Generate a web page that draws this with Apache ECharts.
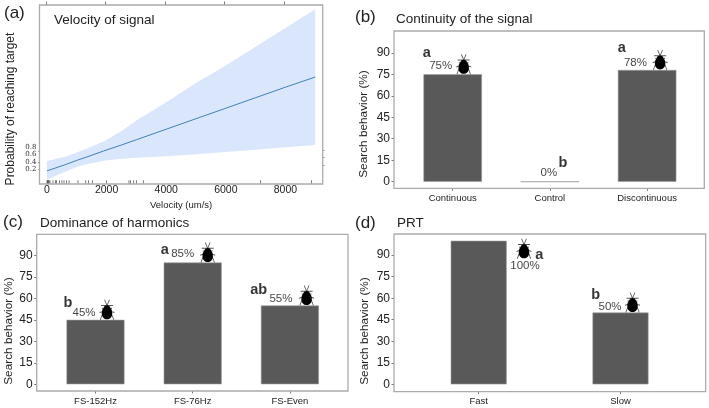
<!DOCTYPE html>
<html><head><meta charset="utf-8">
<style>html,body{margin:0;padding:0;background:#fff}#c{width:709px;height:408px}</style>
<script src="https://cdn.jsdelivr.net/npm/echarts@6/dist/echarts.min.js"></script>
</head><body><div id="c"></div>
<script>
// ---- data: panel (a)
const velocity   = [0,   630, 1000, 1300, 1900, 2500, 3000, 4000, 5000, 6000, 7000, 8000, 9000];
const fitLine    = [0.16,0.33,0.44, 0.52, 0.69, 0.85, 0.99, 1.27, 1.55, 1.83, 2.11, 2.39, 2.66];
const bandUpper  = [0.42,0.54,0.65, 0.74, 0.94, 1.22, 1.50, 1.99, 2.50, 2.97, 3.47, 3.97, 4.47];
const bandLower  = [-0.07,0.14,0.26,0.33, 0.43, 0.48, 0.51, 0.55, 0.60, 0.66, 0.72, 0.79, 0.85];
const rugValues  = [0,15,30,50,70,100,200,280,320,420,500,570,660,740,1040,1300,1390,1520,2000,2750,2800,2910,3000,3230,7170,8880];
const velocityTicks = [0,2000,4000,6000,8000];
const probLabels = [0.2,0.4,0.6,0.8];
// ---- data: panels (b), (c), (d)
const catsB = ['Continuous','Control','Discontinuous'];
const valsB = [75,0,78];
const lettersB = ['a','b','a'];
const catsC = ['FS-152Hz','FS-76Hz','FS-Even'];
const valsC = [45,85,55];
const lettersC = ['b','a','ab'];
const catsD = ['Fast','Slow'];
const valsD = [100,50];
const lettersD = ['a','b'];
const searchTicks = [0,15,30,45,60,75,90];

// ---- annotation offsets (px from top centre of each bar)
const layoutB = {pct:[[-12,-8],[-1,-8.7],[-11.7,-7.5]], let:[[-26,-21],[13,-19],[-25.3,-21.6]], bug:[[11,-10],null,[13,-10]]};
const layoutC = {pct:[[-11.5,-7],[-10,-8.7],[-9,-7]], let:[[-27.5,-16.5],[-27.8,-13],[-31.3,-15]], bug:[[11.5,-10],[15,-10],[16.7,-10]]};
const layoutD = {pct:[[46.3,25.3],[-10.5,-6]], let:[[60.6,14],[-24.8,-17.6]], bug:[[45.3,8],[12,-10]]};

const FONT = '"Liberation Sans", Arial, sans-serif';
const LEGS = 'path://M50 30L37 2M50 30L63 2M18 30L82 30M42 30L34 42L24 44M58 30L66 42L76 44M38 55L24 60L10 64M62 55L76 60L90 64M38 65L22 80L14 100M62 65L78 80L86 100';
const BODY = 'path://M50 0C60 0 66 8 68 18C76 24 80 40 80 60C80 85 66 100 50 100C34 100 20 85 20 60C20 40 24 24 32 18C34 8 40 0 50 0Z';

const grids=[], xAxes=[], yAxes=[], series=[], graphics=[];
const hiddenLine={show:false,onZero:false};

function text(x,y,t,size){
  graphics.push({type:'text',x:x,y:y,silent:true,
    style:{text:t,fontFamily:FONT,fontSize:size,fill:'#222',textAlign:'left',textVerticalAlign:'middle'}});
}
function vtext(x,y,t,size){
  graphics.push({type:'text',x:x,y:y,rotation:Math.PI/2,silent:true,
    style:{text:t,fontFamily:FONT,fontSize:size,fill:'#222',textAlign:'center',textVerticalAlign:'middle'}});
}
function box(l,t,r,b){
  graphics.push({type:'rect',silent:true,z:20,shape:{x:l,y:t,width:r-l,height:b-t},
    style:{fill:'none',stroke:'#ababab',lineWidth:1.3}});
}

function barPanel(o){
  const gi=grids.length;
  box(o.boxL,o.boxT,o.boxR,o.boxB);
  const band=o.step, n=o.cats.length;
  const gl=o.c0-band/2, gr=gl+band*n;
  grids.push({left:gl,top:o.boxT,width:gr-gl,height:o.boxB-o.boxT});
  xAxes.push({type:'category',gridIndex:gi,data:o.cats,
    axisLine:hiddenLine,axisTick:{show:true,alignWithLabel:true,length:2.5,lineStyle:{color:'#555',width:0.8}},
    axisLabel:{color:'#222',fontSize:9.5,fontFamily:FONT,margin:5,interval:0}});
  yAxes.push({type:'value',gridIndex:gi,min:o.yMin,max:o.yMax,offset:gl-o.boxL,
    splitLine:{show:false},axisLine:hiddenLine,
    axisTick:{show:true,length:2.5,customValues:searchTicks,lineStyle:{color:'#555',width:0.8}},
    axisLabel:{color:'#222',fontSize:12,fontFamily:FONT,margin:4,customValues:searchTicks}});
  series.push({type:'bar',xAxisIndex:gi,yAxisIndex:gi,data:o.vals,barWidth:o.barW,silent:true,
    itemStyle:{color:'#595959',borderColor:'#9a9a9a',borderWidth:0.6}});
  const pts=o.vals.map((v,i)=>[i,v]);
  series.push({type:'scatter',xAxisIndex:gi,yAxisIndex:gi,silent:true,symbolSize:0,z:5,
    data:pts.map((p,i)=>({value:p,label:{show:true,position:'inside',offset:o.layout.pct[i],formatter:o.vals[i]+'%',
      color:'#111',fontSize:11.5,fontFamily:FONT}}))});
  series.push({type:'scatter',xAxisIndex:gi,yAxisIndex:gi,silent:true,symbolSize:0,z:5,
    data:pts.map((p,i)=>({value:p,label:{show:true,position:'inside',offset:o.layout.let[i],formatter:o.letters[i],
      color:'#000',fontSize:14.5,fontWeight:'bold',fontFamily:FONT}}))});
  const bugs=pts.map((p,i)=>({p:p,off:o.layout.bug[i]})).filter(b=>b.off);
  series.push({type:'scatter',xAxisIndex:gi,yAxisIndex:gi,silent:true,z:6,symbol:LEGS,symbolSize:[15,20],
    itemStyle:{color:'transparent',borderColor:'#555',borderWidth:0.9,opacity:1},
    data:bugs.map(b=>({value:b.p,symbolOffset:b.off}))});
  series.push({type:'scatter',xAxisIndex:gi,yAxisIndex:gi,silent:true,z:7,symbol:BODY,symbolSize:[10.5,14],
    itemStyle:{color:'#000',opacity:1},
    data:bugs.map(b=>({value:b.p,symbolOffset:[b.off[0],b.off[1]+2.5]}))});
}

// ---- panel (a)
(function(){
  const L=39.5,T=5,R=322.7,B=184;
  box(L,T,R,B);
  grids.push({left:L,top:T,width:R-L,height:B-T});
  const xMin=-252,xMax=9250,yMin=-0.19,yMax=4.58;
  xAxes.push({type:'value',gridIndex:0,min:xMin,max:xMax,splitLine:{show:false},axisLine:hiddenLine,
    name:'Velocity (um/s)',nameLocation:'middle',nameGap:16,
    nameTextStyle:{color:'#222',fontSize:9.5,fontFamily:FONT},
    axisTick:{show:false},
    axisLabel:{color:'#222',fontSize:10.5,fontFamily:FONT,margin:1,customValues:velocityTicks,formatter:v=>String(v)}});
  yAxes.push({type:'value',gridIndex:0,min:yMin,max:yMax,splitLine:{show:false},axisLine:hiddenLine,
    axisTick:{show:true,length:1.5,customValues:[0.2,0.4,0.67],lineStyle:{color:'#666',width:0.6}},
    axisLabel:{color:'#333',fontSize:7,fontFamily:'"DejaVu Serif",serif',margin:3,customValues:probLabels,formatter:v=>v.toFixed(1)}});
  const gi=grids.length;
  grids.push({left:L,top:T,width:R-L,height:B-T});
  xAxes.push({type:'value',gridIndex:gi,position:'top',min:xMin,max:xMax,splitLine:{show:false},axisLine:hiddenLine,
    axisLabel:{show:false},axisTick:{show:true,length:3.5,customValues:velocityTicks.map(v=>v-40),lineStyle:{color:'#444',width:0.7}}});
  yAxes.push({type:'value',gridIndex:gi,position:'right',min:yMin,max:yMax,splitLine:{show:false},axisLine:hiddenLine,
    axisLabel:{show:false},axisTick:{show:true,length:2,customValues:[0.31,0.52,0.72],lineStyle:{color:'#666',width:0.6}}});
  series.push({type:'custom',xAxisIndex:0,yAxisIndex:0,silent:true,z:1,data:[0],
    renderItem:function(p,api){
      const pts=[];
      velocity.forEach((v,i)=>pts.push(api.coord([v,bandUpper[i]])));
      for(let i=velocity.length-1;i>=0;i--)pts.push(api.coord([velocity[i],bandLower[i]]));
      return {type:'polygon',shape:{points:pts},style:{fill:'#dae6fb'}};
    }});
  series.push({type:'line',xAxisIndex:0,yAxisIndex:0,silent:true,z:2,showSymbol:false,
    data:velocity.map((v,i)=>[v,fitLine[i]]),lineStyle:{color:'#3f81b5',width:1}});
  series.push({type:'scatter',xAxisIndex:0,yAxisIndex:0,silent:true,z:3,symbol:'rect',symbolSize:[0.7,3.5],
    symbolOffset:[0,-2],itemStyle:{color:'#444',opacity:1},data:rugValues.map(v=>[v,yMin])});
})();

barPanel({cats:catsB,vals:valsB,letters:lettersB,layout:layoutB,boxL:394,boxT:31,boxR:704.3,boxB:188.3,
  c0:452.7,step:97.2,barW:58.5,yMin:-4.6,yMax:105.2});
barPanel({cats:catsC,vals:valsC,letters:lettersC,layout:layoutC,boxL:36.7,boxT:234.3,boxR:348,boxB:391,
  c0:95.5,step:97.2,barW:58,yMin:-4.7,yMax:104.7});
barPanel({cats:catsD,vals:valsD,letters:lettersD,layout:layoutD,boxL:394,boxT:234,boxR:705.7,boxB:391.7,
  c0:478.7,step:141.8,barW:56,yMin:-5.1,yMax:104.7});

// ---- panel tags, titles, axis names
text(4,13,'(a)',17); text(355,17,'(b)',17); text(3,222,'(c)',17); text(355,223,'(d)',17);
text(54,20,'Velocity of signal',13.5);
text(396,19,'Continuity of the signal',13.5);
text(40,223,'Dominance of harmonics',13.5);
text(397,223,'PRT',13.5);
vtext(11,109,'Probability of reaching target',12);
vtext(364,124,'Search behavior (%)',11.8);
vtext(9,331,'Search behavior (%)',11.8);
vtext(365,331,'Search behavior (%)',11.8);

const chart=echarts.init(document.getElementById('c'),null,{renderer:'canvas'});
chart.setOption({animation:false,backgroundColor:'#fff',tooltip:{show:false},
  grid:grids,xAxis:xAxes,yAxis:yAxes,series:series,graphic:{elements:graphics}});
</script></body></html>
